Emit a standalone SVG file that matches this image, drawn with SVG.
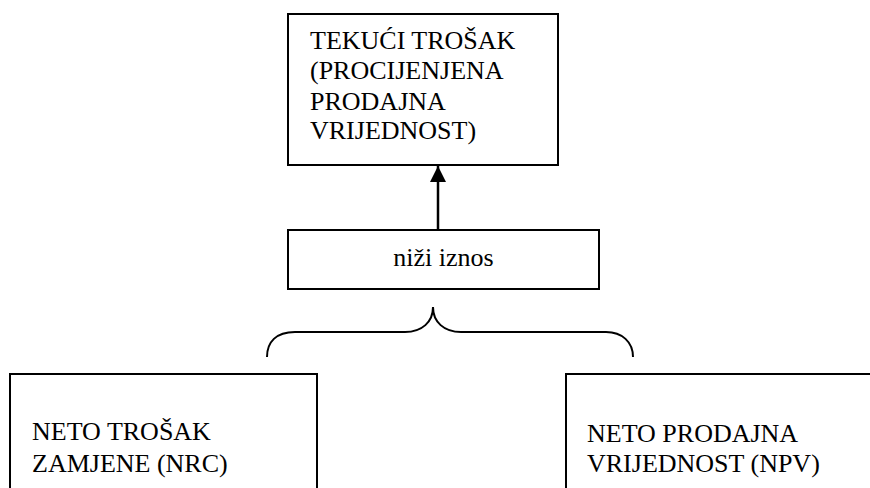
<svg xmlns="http://www.w3.org/2000/svg" width="870" height="488" viewBox="0 0 870 488">
<defs>
<style>
.box{fill:#fff;stroke:#000;stroke-width:2}
.t{font-family:'Liberation Serif','Tinos','Times New Roman','Noto Serif','DejaVu Serif',serif;font-size:26px;fill:#000}
.line{fill:none;stroke:#000;stroke-width:2.5}
.brace{fill:none;stroke:#000;stroke-width:2}
</style>
<marker id="ah" viewBox="0 0 10 10" refX="10" refY="5" markerWidth="6.4" markerHeight="6.4" markerUnits="strokeWidth" orient="auto">
<path d="M0,0 L10,5 L0,10 z" fill="#000"/>
</marker>
</defs>
<rect width="870" height="488" fill="#fff"/>
<g id="tekuci">
<rect class="box" x="288" y="14" width="270" height="151"/>
<text class="t" x="310" y="49">TEKUĆI TROŠAK</text>
<text class="t" x="310" y="79">(PROCIJENJENA</text>
<text class="t" x="310" y="110">PRODAJNA</text>
<text class="t" x="310" y="139">VRIJEDNOST)</text>
</g>
<g id="nizi">
<rect class="box" x="288" y="230" width="311" height="59"/>
<text class="t" x="443.5" y="266" text-anchor="middle">niži iznos</text>
</g>
<g id="nrc">
<rect class="box" x="10" y="374" width="307" height="130"/>
<text class="t" x="32" y="440">NETO TROŠAK</text>
<text class="t" x="32" y="472">ZAMJENE (NRC)</text>
</g>
<g id="npv">
<rect class="box" x="566" y="374" width="320" height="130"/>
<text class="t" x="587" y="442">NETO PRODAJNA</text>
<text class="t" x="587" y="472">VRIJEDNOST (NPV)</text>
</g>
<g id="connectors">
<line class="line" x1="438" y1="230" x2="438" y2="166" marker-end="url(#ah)"/>
<path class="brace" d="M267,357 C267,342 276,332 295,332 L405,332 C422,332 433,322 433,307 C433,322 444,332 461,332 L606,332 C622,332 633,342 633,357"/>
</g>
</svg>
